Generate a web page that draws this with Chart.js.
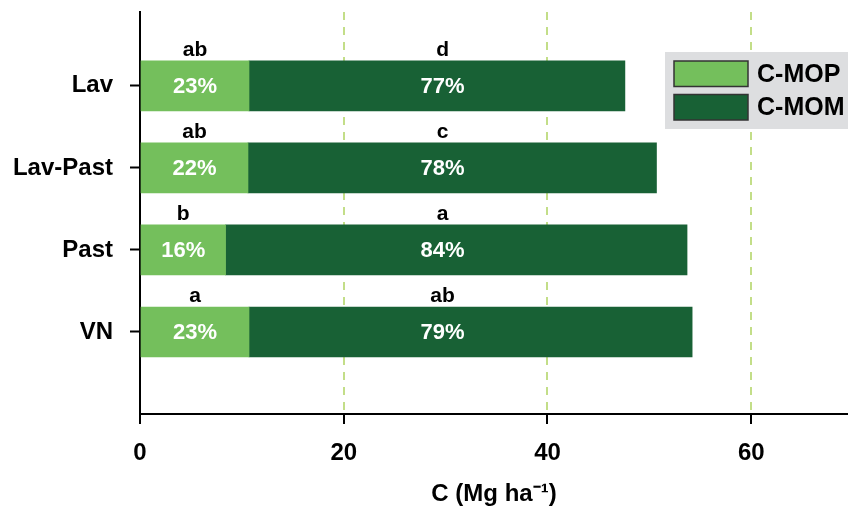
<!DOCTYPE html>
<html>
<head>
<meta charset="utf-8">
<script src="https://cdn.jsdelivr.net/npm/chart.js@4"></script>
<style>
  html, body { margin: 0; padding: 0; background: #fff; overflow: hidden; }
</style>
</head>
<body>
<canvas id="c" width="848" height="506"></canvas>
<script>
/* ── data ───────────────────────────────────────────────── */
const CATEGORIES = ['Lav', 'Lav-Past', 'Past', 'VN'];
const ROW_POS    = [4, 3, 2, 1];
const C_MOP      = [10.7, 10.6, 8.4, 10.7];
const C_MOM      = [36.9, 40.1, 45.3, 43.5];
const PCT_MOP    = ['23%', '22%', '16%', '23%'];
const PCT_MOM    = ['77%', '78%', '84%', '79%'];
const LETTER_MOP = ['ab', 'ab', 'b', 'a'];
const LETTER_MOM = ['d', 'c', 'a', 'ab'];
const X_TICKS    = [0, 20, 40, 60];
const SERIES     = ['C-MOP', 'C-MOM'];

/* ── style ──────────────────────────────────────────────── */
const LIGHT = '#74bf5c';
const DARK  = '#186135';
const GRID  = '#c3de88';
const FONT  = "'Liberation Sans', Arial, sans-serif";
const MOM_LABEL_AT = 29.7;   // original places the C-MOM labels in one column

Chart.defaults.font.family = FONT;
Chart.defaults.color = '#000';

/* percentages inside bars, letters above them */
const barLabels = {
  id: 'barLabels',
  afterDatasetsDraw(chart) {
    const { ctx, scales: { x } } = chart;
    const mop = chart.getDatasetMeta(0).data;
    const mom = chart.getDatasetMeta(1).data;
    ctx.save();
    ctx.textAlign = 'center';
    const put = (bar, cx, pct, letter) => {
      const top = bar.y - bar.height / 2;
      ctx.fillStyle = '#fff';
      ctx.font = 'bold 22px ' + FONT;
      ctx.textBaseline = 'middle';
      ctx.fillText(pct, cx, bar.y + 1);
      ctx.fillStyle = '#000';
      ctx.font = 'bold 21px ' + FONT;
      ctx.textBaseline = 'alphabetic';
      ctx.fillText(letter, cx, top - 5);
    };
    mop.forEach((bar, i) => put(bar, (bar.x + bar.base) / 2, PCT_MOP[i], LETTER_MOP[i]));
    const mx = x.getPixelForValue(MOM_LABEL_AT);
    mom.forEach((bar, i) => put(bar, mx, PCT_MOM[i], LETTER_MOM[i]));
    ctx.restore();
  },
};

/* grey legend box, top right */
const boxLegend = {
  id: 'boxLegend',
  afterDraw(chart) {
    const ctx = chart.ctx;
    ctx.save();
    ctx.fillStyle = '#dddee0';
    ctx.fillRect(665, 52, 183, 77);
    [LIGHT, DARK].forEach((col, i) => {
      const y = 61 + i * 33.5;
      ctx.fillStyle = col;
      ctx.fillRect(674, y, 74, 25.5);
      ctx.strokeStyle = '#333';
      ctx.lineWidth = 1.5;
      ctx.strokeRect(674, y, 74, 25.5);
      ctx.fillStyle = '#000';
      ctx.font = 'bold 25px ' + FONT;
      ctx.textBaseline = 'middle';
      ctx.textAlign = 'left';
      ctx.fillText(SERIES[i], 757, y + 14);
    });
    ctx.restore();
  },
};

new Chart(document.getElementById('c'), {
  type: 'bar',
  data: {
    datasets: [
      {
        label: SERIES[0],
        data: C_MOP.map((v, i) => ({ x: v, y: ROW_POS[i] })),
        backgroundColor: LIGHT,
        borderWidth: 0,
        barThickness: 50,
      },
      {
        label: SERIES[1],
        data: C_MOM.map((v, i) => ({ x: v, y: ROW_POS[i] })),
        backgroundColor: DARK,
        borderWidth: 0,
        barThickness: 50,
      },
    ],
  },
  options: {
    indexAxis: 'y',
    responsive: false,
    animation: false,
    layout: { padding: { top: 12, right: 0, bottom: 0, left: 0 } },
    plugins: {
      legend: { display: false },
      tooltip: { enabled: false },
    },
    scales: {
      x: {
        type: 'linear',
        stacked: true,
        min: 0, max: 69.5,
        z: 1,
        afterBuildTicks: s => { s.ticks = X_TICKS.map(v => ({ value: v })); },
        afterFit: s => { s.height = 92; s.paddingLeft = 0; s.paddingRight = 0; },
        border: { color: '#000', width: 2, dash: [8, 7] },
        grid: {
          color: c => (c.tick && c.tick.value === 0 ? 'rgba(0,0,0,0)' : GRID),
          lineWidth: 2,
          tickLength: 10,
          tickColor: '#000',
          tickWidth: 2,
        },
        ticks: { color: '#000', font: { size: 24, weight: 'bold' }, padding: 15 },
        title: {
          display: true,
          text: 'C (Mg ha⁻¹)',
          color: '#000',
          font: { size: 24, weight: 'bold', lineHeight: 1.0 },
          padding: { top: 0, bottom: 0 },
        },
      },
      y: {
        type: 'linear',
        stacked: true,
        min: 0, max: 4.9,
        offset: false,
        z: 1,
        afterBuildTicks: s => { s.ticks = ROW_POS.map(v => ({ value: v })); },
        afterFit: s => { s.width = 140; s.paddingTop = 0; s.paddingBottom = 0; },
        border: { color: '#000', width: 2 },
        grid: {
          offset: false,
          drawOnChartArea: false,
          tickLength: 10,
          tickColor: '#000',
          tickWidth: 2,
        },
        ticks: {
          color: '#000',
          font: { size: 24, weight: 'bold' },
          padding: 17,
          callback: v => CATEGORIES[ROW_POS.indexOf(v)],
        },
      },
    },
  },
  plugins: [barLabels, boxLegend],
});
</script>
</body>
</html>
